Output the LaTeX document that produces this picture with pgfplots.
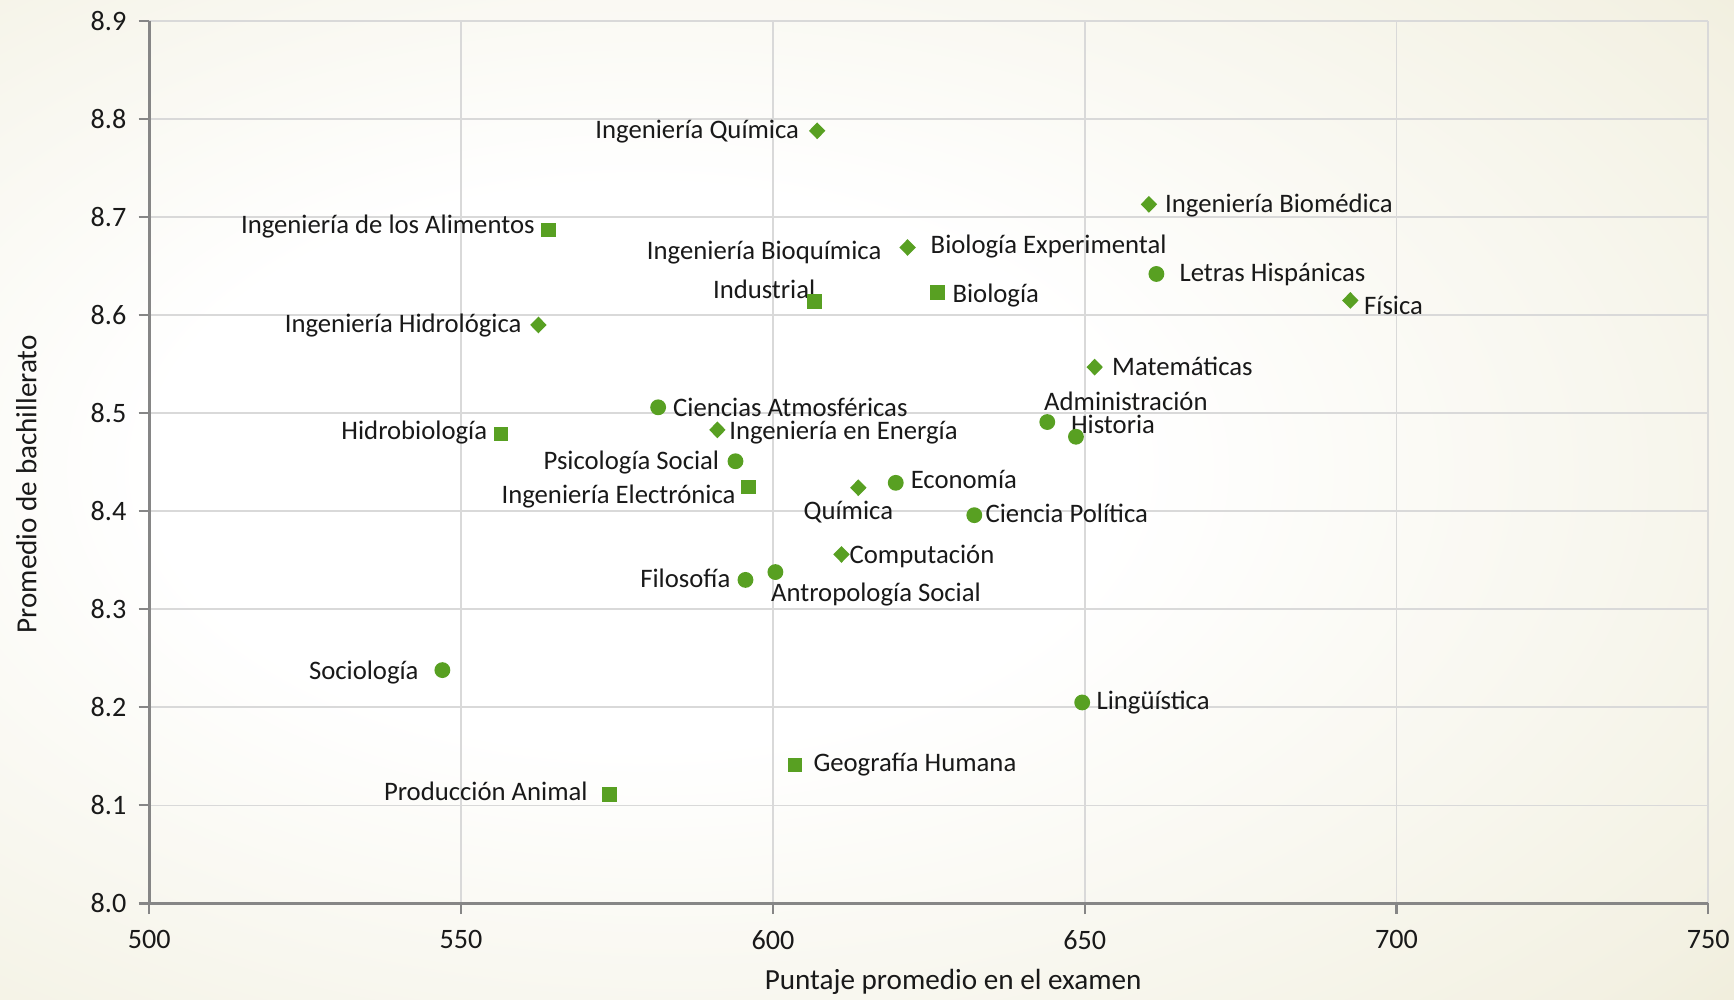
\documentclass[border=0pt]{standalone}
\usepackage{pgfplots}
\pgfplotsset{compat=1.18}
\usepackage{pgfplotstable}
\usepackage{fontspec}
\setmainfont{Carlito}
\definecolor{mk}{RGB}{88,160,34}
\definecolor{bgmid}{RGB}{243,241,227}
\definecolor{bgout}{RGB}{226,220,184}
\definecolor{gridc}{RGB}{217,217,217}
\definecolor{axc}{RGB}{134,134,134}
\definecolor{txt}{RGB}{25,25,25}
\pgfdeclareradialshading{bgshade}{\pgfpoint{-8bp}{2bp}}{color(0bp)=(white); color(14bp)=(white); color(36bp)=(bgmid); color(56bp)=(bgout); color(80bp)=(bgout)}

\pgfplotstableread{
x y
661.5 8.642
581.6 8.506
644.0 8.491
648.6 8.476
594.0 8.451
619.7 8.429
632.3 8.396
600.4 8.338
595.6 8.330
547.0 8.238
649.6 8.205
}\circles
\pgfplotstableread{
x y
564.0 8.687
606.7 8.614
626.4 8.623
556.4 8.479
596.1 8.425
603.5 8.141
573.8 8.111
}\squares
\pgfplotstableread{
x y
607.1 8.788
660.3 8.713
621.6 8.669
692.6 8.615
562.4 8.590
651.6 8.547
591.1 8.483
613.7 8.424
611.0 8.356
}\diamonds

\begin{document}
\begin{tikzpicture}[font=\fontsize{7.6}{9}\selectfont]
\path[use as bounding box, shading=bgshade] (-1.493cm,-0.965cm) rectangle (15.847cm,9.035cm);
\begin{axis}[
  at={(0,0)}, anchor=south west,
  scale only axis, width=15.59cm, height=8.825cm,
  xmin=500, xmax=750, ymin=8.0, ymax=8.9,
  xtick={500,550,...,750},
  ytick={8.0,8.1,...,8.9},
  yticklabel style={/pgf/number format/fixed, /pgf/number format/fixed zerofill, /pgf/number format/precision=1},
  /pgf/number format/assume math mode=true,
  axis lines=left, axis line style={-, draw=axc, line width=0.9pt},
  grid=major, major grid style={draw=gridc, line width=0.5pt},
  tick align=outside, major tick length=3pt, tick style={draw=axc, line width=0.6pt},
  ticklabel style={text=txt, font=\fontsize{8}{9}\selectfont},
  xticklabel style={yshift=-1.2pt},
  yticklabel style={xshift=0pt},
  xlabel={Puntaje promedio en el examen},
  ylabel={Promedio de bachillerato},
  label style={font=\fontsize{8.3}{10}\selectfont},
  xlabel style={at={(axis description cs:0.5156,-0.089)}, anchor=center, text=txt},
  ylabel style={at={(axis description cs:-0.0788,0.475)}, anchor=center, text=txt},
  clip=false,
]
\addplot[only marks, mark=*, mark size=2.05pt, mk, mark options={draw=mk, fill=mk}] table {\circles};
\addplot[only marks, mark=square*, mark size=1.85pt, mk, mark options={draw=mk, fill=mk}] table {\squares};
\addplot[only marks, mark=diamond*, mark size=2.1pt, mk, mark options={draw=mk, fill=mk, xscale=1.3}] table {\diamonds};

\begin{scope}[every node/.style={inner sep=0pt, text=txt}]
\node[anchor=east] at (axis cs:604.3,8.787) {Ingeniería Química};
\node[anchor=west] at (axis cs:662.8,8.712) {Ingeniería Biomédica};
\node[anchor=east] at (axis cs:561.9,8.690) {Ingeniería de los Alimentos};
\node[align=center, anchor=center] at (axis cs:598.6,8.646) {Ingeniería Bioquímica\\[2pt]Industrial};
\node[anchor=west] at (axis cs:625.2,8.670) {Biología Experimental};
\node[anchor=west] at (axis cs:665.1,8.641) {Letras Hispánicas};
\node[anchor=west] at (axis cs:628.7,8.620) {Biología};
\node[anchor=west] at (axis cs:694.7,8.610) {Física};
\node[anchor=east] at (axis cs:559.8,8.589) {Ingeniería Hidrológica};
\node[anchor=west] at (axis cs:654.3,8.548) {Matemáticas};
\node[anchor=west] at (axis cs:583.9,8.506) {Ciencias Atmosféricas};
\node[anchor=west] at (axis cs:643.4,8.512) {Administración};
\node[anchor=west] at (axis cs:647.7,8.489) {Historia};
\node[anchor=west] at (axis cs:592.9,8.480) {Ingeniería en Energía};
\node[anchor=east] at (axis cs:554.3,8.480) {Hidrobiología};
\node[anchor=east] at (axis cs:591.5,8.450) {Psicología Social};
\node[anchor=east] at (axis cs:594.1,8.415) {Ingeniería Electrónica};
\node[anchor=center] at (axis cs:612.1,8.399) {Química};
\node[anchor=west] at (axis cs:622.0,8.432) {Economía};
\node[anchor=west] at (axis cs:634.0,8.398) {Ciencia Política};
\node[anchor=west] at (axis cs:612.2,8.354) {Computación};
\node[anchor=east] at (axis cs:593.3,8.332) {Filosofía};
\node[anchor=west] at (axis cs:599.6,8.315) {Antropología Social};
\node[anchor=east] at (axis cs:543.3,8.236) {Sociología};
\node[anchor=west] at (axis cs:651.8,8.205) {Lingüística};
\node[anchor=west] at (axis cs:606.4,8.142) {Geografía Humana};
\node[anchor=east] at (axis cs:570.4,8.114) {Producción Animal};
\end{scope}
\end{axis}
\end{tikzpicture}
\end{document}
